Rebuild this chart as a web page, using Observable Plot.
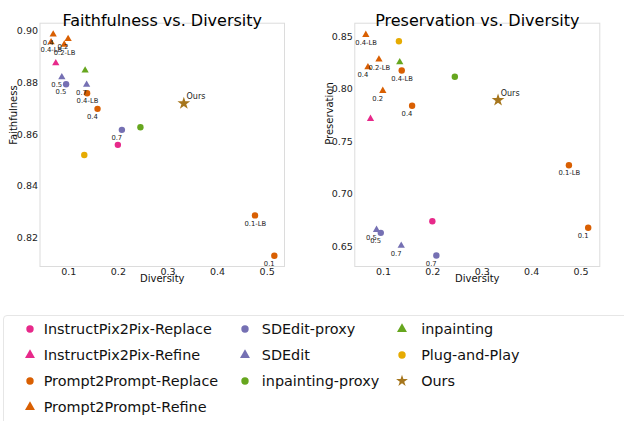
<!DOCTYPE html>
<html>
<head>
<meta charset="utf-8">
<script src="https://cdn.jsdelivr.net/npm/d3@7"></script>
<script src="https://cdn.jsdelivr.net/npm/@observablehq/plot@0.6"></script>
<style>
  body { margin: 0; background: #fff; }
  #root { position: relative; width: 624px; height: 421px; overflow: hidden; font-family: "DejaVu Sans", sans-serif; }
  .panel { position: absolute; top: 0; }
  #legend { position: absolute; left: 3px; top: 315px; width: 660px; height: 140px; box-sizing: border-box;
            border: 1px solid #e6e6e6; border-radius: 4px; padding: 0.4px 0 0 17.7px; }
  #legend > div { display: grid !important; columns: auto !important; margin: 0 !important;
                  grid-template-columns: 215.6px 156.9px auto; grid-template-rows: repeat(4, 25.8px);
                  font-family: "DejaVu Sans", sans-serif !important; font-size: 14.4px !important; color: #111 !important; }
  #legend > div > div { display: flex !important; align-items: center; padding: 0 !important; margin: 0 !important; }
  #legend > div > div > svg { flex-shrink: 0; overflow: visible; }
  #legend > div > div > div { overflow: visible !important; white-space: nowrap; }
  #legend > div > div:nth-of-type(1) { grid-column: 1; grid-row: 1; }
  #legend > div > div:nth-of-type(2) { grid-column: 1; grid-row: 2; }
  #legend > div > div:nth-of-type(3) { grid-column: 1; grid-row: 3; }
  #legend > div > div:nth-of-type(4) { grid-column: 1; grid-row: 4; }
  #legend > div > div:nth-of-type(5) { grid-column: 2; grid-row: 1; }
  #legend > div > div:nth-of-type(6) { grid-column: 2; grid-row: 2; }
  #legend > div > div:nth-of-type(7) { grid-column: 2; grid-row: 3; }
  #legend > div > div:nth-of-type(8) { grid-column: 3; grid-row: 1; }
  #legend > div > div:nth-of-type(9) { grid-column: 3; grid-row: 2; }
  #legend > div > div:nth-of-type(10) { grid-column: 3; grid-row: 3; }
  #legend > div > div:nth-of-type(-n+4) > svg { margin-right: 6px !important; }
  #legend > div > div:nth-of-type(n+5):nth-of-type(-n+7) > svg { margin-right: 8.5px !important; }
  #legend > div > div:nth-of-type(n+8) > svg { margin-right: 11px !important; }
</style>
</head>
<body>
<div id="root">
  <div id="left" class="panel" style="left:0px"></div>
  <div id="right" class="panel" style="left:312px"></div>
  <div id="legend"></div>
</div>
<script>
// ---- Series (legend) ----
const methods = [
  "InstructPix2Pix-Replace", "InstructPix2Pix-Refine", "Prompt2Prompt-Replace", "Prompt2Prompt-Refine",
  "SDEdit-proxy", "SDEdit", "inpainting-proxy", "inpainting", "Plug-and-Play", "Ours"
];
const methodColors = [
  "#e7298a", "#e7298a", "#d95f02", "#d95f02",
  "#7570b3", "#7570b3", "#66a61e", "#66a61e", "#e6ab02", "#a6761d"
];
const methodSymbols = [
  "circle", "triangle", "circle", "triangle",
  "circle", "triangle", "circle", "triangle", "circle", "star"
];

// ---- Points ----
const pointMethod = [
  "InstructPix2Pix-Replace", "InstructPix2Pix-Refine",
  "Prompt2Prompt-Replace", "Prompt2Prompt-Replace", "Prompt2Prompt-Replace", "Prompt2Prompt-Replace",
  "Prompt2Prompt-Refine", "Prompt2Prompt-Refine", "Prompt2Prompt-Refine", "Prompt2Prompt-Refine",
  "SDEdit-proxy", "SDEdit-proxy", "SDEdit", "SDEdit",
  "inpainting-proxy", "inpainting", "Plug-and-Play", "Ours"
];
const pointLabel = [
  "", "",
  "0.4-LB", "0.4", "0.1-LB", "0.1",
  "0.4", "0.4-LB", "0.2", "0.2-LB",
  "0.5", "0.7", "0.5", "0.7",
  "", "", "", "Ours"
];
const diversity = [
  0.199, 0.0738,
  0.137, 0.158, 0.4755, 0.5145,
  0.0686, 0.0643, 0.0987, 0.0909,
  0.0946, 0.2071, 0.0860, 0.1360,
  0.2445, 0.1330, 0.1313, 0.3320
];
const faithfulness = [
  0.8560, 0.8875,
  0.8759, 0.8699, 0.8288, 0.8132,
  0.8986, 0.8956, 0.8969, 0.8947,
  0.8794, 0.8618, 0.8821, 0.8792,
  0.8628, 0.8847, 0.8521, 0.8720
];
const preservation = [
  0.6741, 0.7716,
  0.8176, 0.7840, 0.7274, 0.6678,
  0.8208, 0.8516, 0.7983, 0.8281,
  0.6630, 0.6414, 0.6659, 0.6507,
  0.8116, 0.8255, 0.8455, 0.7894
];

// ---- Tick labels ----
const diversityTicks = [0.1, 0.2, 0.3, 0.4, 0.5];
const faithfulnessTicks = [0.82, 0.84, 0.86, 0.88, 0.90];
const preservationTicks = [0.65, 0.70, 0.75, 0.80, 0.85];

// ---- Build table ----
const points = pointMethod.map((m, i) => ({
  method: m, label: pointLabel[i],
  diversity: diversity[i], faithfulness: faithfulness[i], preservation: preservation[i]
}));

const symbolTypes = { circle: d3.symbolCircle, triangle: d3.symbolTriangle, star: d3.symbolStar };
const markerRadius = { circle: 3.2, triangle: 2.7, star: 4.0 };
const symbolOf = m => methodSymbols[methods.indexOf(m)];
const FONT = '"DejaVu Sans", sans-serif';

function panel({yKey, yTicks, xDomain, yDomain, title, yLabel, marginLeft, marginRight, yLabelDx}) {
  return Plot.plot({
    width: 312, height: 290,
    marginLeft, marginRight, marginTop: 22.7, marginBottom: 24,
    style: { fontFamily: FONT, background: "transparent", color: "#222", overflow: "visible" },
    x: { domain: xDomain },
    y: { domain: yDomain },
    r: { type: "identity" },
    color: { domain: methods, range: methodColors },
    symbol: { domain: methods, range: methodSymbols.map(s => symbolTypes[s]) },
    marks: [
      Plot.frame({ stroke: "#dcdcdc" }),
      Plot.axisX({ ticks: diversityTicks, tickSize: 0, tickPadding: 1.5, tickFormat: d3.format(".1f"), fontSize: 9.5, label: null }),
      Plot.axisY({ ticks: yTicks, tickSize: 0, tickPadding: 2, tickFormat: d3.format(".2f"), fontSize: 9.5, label: null }),
      Plot.text([title], { text: d => d, frameAnchor: "top", dy: -8.7, fontSize: 16, fill: "#000" }),
      Plot.text(["Diversity"], { text: d => d, frameAnchor: "bottom", dy: 15.2, fontSize: 10, fill: "#111" }),
      Plot.text([yLabel], { text: d => d, frameAnchor: "left", rotate: -90, dx: yLabelDx, fontSize: 10, fill: "#111" }),
      Plot.dot(points, {
        x: "diversity", y: yKey, fill: "method", symbol: "method",
        r: d => markerRadius[symbolOf(d.method)], sort: null
      }),
      Plot.text(points.filter(d => d.label && d.method !== "Ours"), {
        x: "diversity", y: yKey, text: "label", textAnchor: "start",
        dx: -10.5, dy: 8, fontSize: 6.8, fill: "#222"
      }),
      Plot.text(points.filter(d => d.method === "Ours"), {
        x: "diversity", y: yKey, text: "label", textAnchor: "start",
        dx: 2.7, dy: -6.7, fontSize: 8, fill: "#222"
      })
    ]
  });
}

const left = panel({
  yKey: "faithfulness", yTicks: faithfulnessTicks,
  xDomain: [0.042, 0.535], yDomain: [0.80908, 0.90293],
  title: "Faithfulness vs. Diversity", yLabel: "Faithfulness",
  marginLeft: 39.5, marginRight: 28, yLabelDx: -26.5
});
const right = panel({
  yKey: "preservation", yTicks: preservationTicks,
  xDomain: [0.042, 0.538], yDomain: [0.63095, 0.86267],
  title: "Preservation vs. Diversity", yLabel: "Preservation",
  marginLeft: 42.3, marginRight: 24.7, yLabelDx: -25.3
});
document.getElementById("left").appendChild(left);
document.getElementById("right").appendChild(right);

const legend = left.legend("symbol", {
  columns: 3, swatchSize: 16, r: 3.7,
  style: { fontFamily: FONT, fontSize: "14.4px", color: "#111" }
});
if (legend) document.getElementById("legend").appendChild(legend);
</script>
</body>
</html>
